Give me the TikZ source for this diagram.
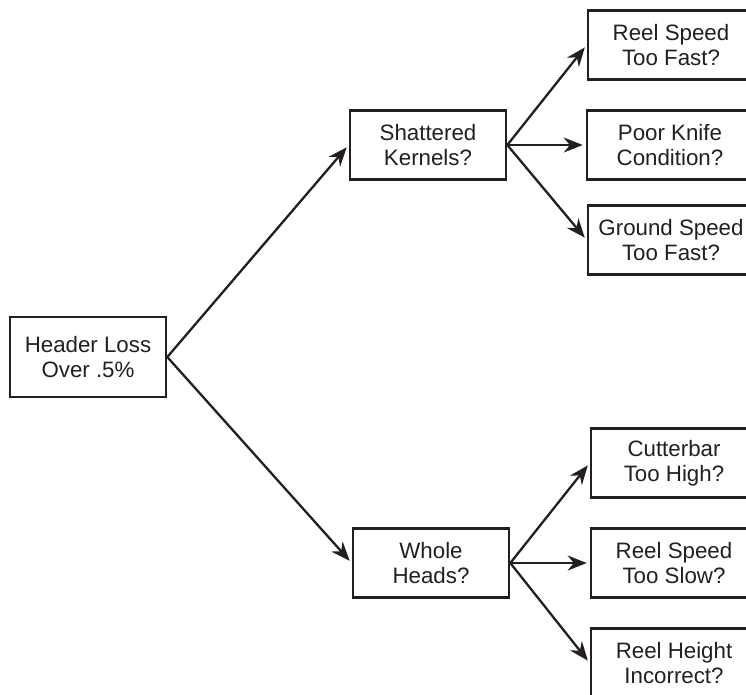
\documentclass[tikz,border=0pt]{standalone}
\usepackage{fontspec}
\setmainfont{Liberation Sans}
\usetikzlibrary{arrows.meta, positioning}
\definecolor{lossink}{RGB}{35,31,32}
\tikzset{
  %% ---- boxes ----
  qbox/.style   = {rectangle, draw=lossink, line width=2.6pt,
                   fill=white, minimum width=#1, minimum height=69pt,
                   inner sep=0pt, align=center, text=lossink,
                   font=\fontsize{22.3}{25}\selectfont},
  qbox/.default = 156pt,
  %% ---- arrows ----
  arrow/.style  = {-{Stealth[length=19pt,width=15pt]}, line width=2.3pt,
                   color=lossink, shorten >=3pt},
}
\begin{document}
\begin{tikzpicture}[x=1pt, y=-1pt]
  \clip (0,0) rectangle (746,694);

  \node[qbox, minimum height=80pt] (loss) at (88,357)
    {Header Loss\\Over .5\%};

  \node[qbox] (shat) at (428,145) {Shattered\\Kernels?};
  \node[qbox] (whole) at (431,563) {Whole\\Heads?};

  %% Shattered kernels causes
  \node[qbox=166pt] (reelfast) at (671,45)  {Reel Speed\\Too Fast?};
  \node[qbox=166pt] (knife)    at (670,145) {Poor Knife\\Condition?};
  \node[qbox=166pt] (ground)   at (671,240) {Ground Speed\\Too Fast?};

  %% Whole heads causes
  \node[qbox=166pt] (cutter)   at (674,463) {Cutterbar\\Too High?};
  \node[qbox=166pt] (reelslow) at (674,563) {Reel Speed\\Too Slow?};
  \node[qbox=166pt] (reelhgt)  at (674,663) {Reel Height\\Incorrect?};

  \foreach \a/\b in {loss/shat, loss/whole, shat/reelfast, shat/knife,
                     shat/ground, whole/cutter, whole/reelslow, whole/reelhgt}
    \draw[arrow] (\a.east) -- (\b.west);

\end{tikzpicture}
\end{document}
